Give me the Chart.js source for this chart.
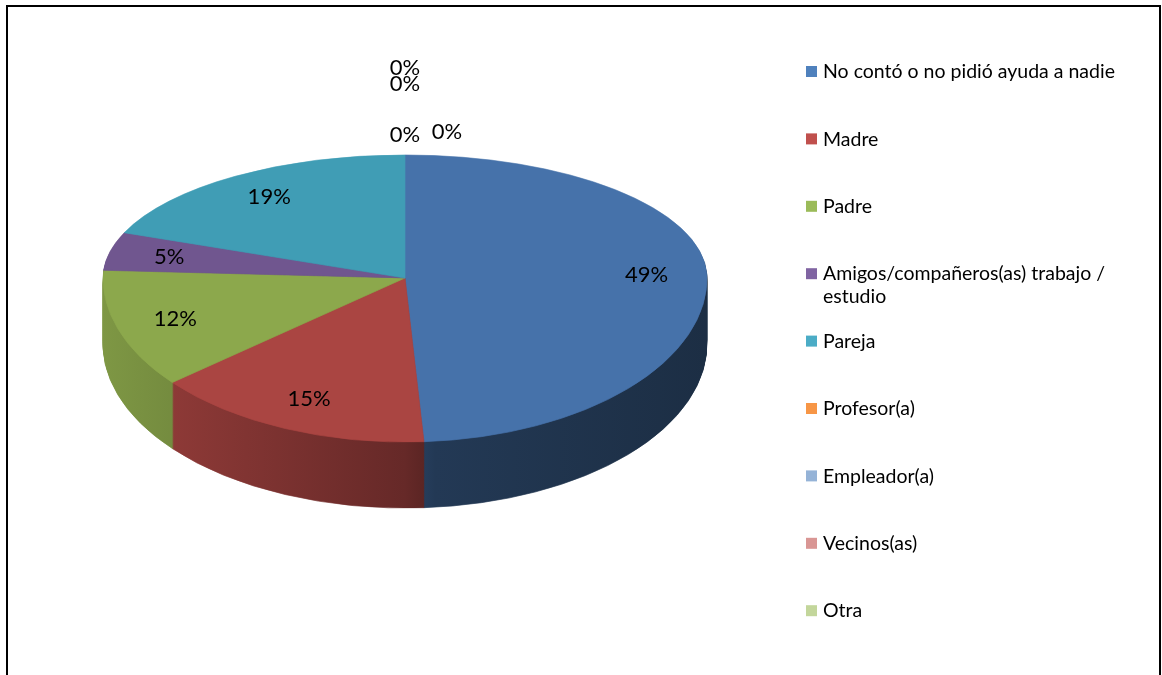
<!DOCTYPE html>
<html><head><meta charset="utf-8">
<script src="https://cdn.jsdelivr.net/npm/chart.js@4"></script>
<style>
html,body{margin:0;padding:0;background:#fff;overflow:hidden;}
#wrap{position:relative;width:1162px;height:675px;}
#frame{position:absolute;left:6px;top:5px;width:1151px;height:700px;border:2px solid #000;}
canvas{position:absolute;left:0;top:0;}
</style></head><body>
<div id="wrap"><canvas id="c" width="1162" height="675"></canvas><div id="frame"></div></div>
<script>
// ---- data ----
const categories = [
  "No contó o no pidió ayuda a nadie",
  "Madre",
  "Padre",
  "Amigos/compañeros(as) trabajo / estudio",
  "Pareja",
  "Profesor(a)",
  "Empleador(a)",
  "Vecinos(as)",
  "Otra"
];
const shares = [49, 15, 12, 5, 19, 0, 0, 0, 0];

// ---- styles ----
const topColors = ['#4672AA','#AA4542','#8CA84C','#70568F','#409DB5','#F79646','#95B3D7','#D99694','#C3D69B'];
const legendColors = ['#4F81BD','#C0504D','#9BBB59','#8064A2','#4BACC6','#F79646','#95B3D7','#D99694','#C3D69B'];
const EX = 405, EY = 278, RX = 302, RYT = 123, RYB = 164, DEPTH = 66;

function shade(hex, f){
  const n = parseInt(hex.slice(1),16);
  const r = Math.round(((n>>16)&255)*f), g = Math.round(((n>>8)&255)*f), b = Math.round((n&255)*f);
  return `rgb(${r},${g},${b})`;
}

const pie3d = {
  id: 'pie3d',
  beforeDatasetsDraw(chart){
    const ctx = chart.ctx, meta = chart.getDatasetMeta(0);
    const el0 = meta.data[0];
    const cx = el0.x, cy = el0.y, R = el0.outerRadius;
    const W = chart.width, H = chart.height;
    const drawPass = (dy, colorOf) => {
      for (const half of [0,1]) {
        ctx.save();
        ctx.beginPath();
        if (half === 0) ctx.rect(0, 0, W, EY + dy);
        else ctx.rect(0, EY + dy, W, H + 200);
        ctx.clip();
        const sx = RX / R, sy = (half === 0 ? RYT : RYB) / R;
        ctx.setTransform(sx, 0, 0, sy, EX - cx * sx, EY + dy - cy * sy);
        meta.data.forEach((arc, i) => {
          if (!(arc.circumference > 0)) return;
          const o = arc.options;
          const col = colorOf(i);
          arc.options = Object.assign({}, o, {backgroundColor: col, borderColor: col, borderWidth: 1});
          arc.draw(ctx);
          arc.options = o;
        });
        ctx.restore();
      }
    };
    const sideGrad = topColors.map(c => {
      const g = ctx.createLinearGradient(cx - R, 0, cx + R, 0);
      g.addColorStop(0, shade(c, 0.9));
      g.addColorStop(0.5, shade(c, 0.6));
      g.addColorStop(0.55, shade(c, 0.5));
      g.addColorStop(1, shade(c, 0.4));
      return g;
    });
    for (let d = DEPTH; d >= 1; d--) drawPass(d, i => sideGrad[i]);
    drawPass(0, i => topColors[i]);
    return false;
  },
  afterDraw(chart){
    const ctx = chart.ctx, meta = chart.getDatasetMeta(0);
    const vals = chart.data.datasets[0].data;
    const total = vals.reduce((a,b)=>a+b,0);
    ctx.save();
    ctx.fillStyle = '#000';
    ctx.textAlign = 'center';
    ctx.textBaseline = 'middle';
    ctx.font = '22px Lato';
    const zeroSlots = [[0,-20],[42,-23.5],[0,-71],[0,-87]];
    let z = 0;
    meta.data.forEach((arc, i) => {
      const txt = Math.round(vals[i] / total * 100) + '%';
      if (vals[i] > 0) {
        const mid = (arc.startAngle + arc.endAngle) / 2;
        const px = Math.cos(mid) * 0.8, py = Math.sin(mid) * 0.8;
        ctx.fillText(txt, EX + px * RX, EY + py * (py < 0 ? RYT : RYB));
      } else {
        const s = zeroSlots[z++ % zeroSlots.length];
        ctx.fillText(txt, EX + s[0], EY - RYT + s[1]);
      }
    });
    // legend
    ctx.textAlign = 'left';
    ctx.font = '19.5px Lato';
    const maxW = 318;
    chart.data.labels.forEach((lab, i) => {
      const y = 72 + i * 67.4;
      const words = lab.split(' ');
      const lines = [];
      let cur = '';
      words.forEach(w => {
        const t = cur ? cur + ' ' + w : w;
        if (ctx.measureText(t).width > maxW && cur) { lines.push(cur); cur = w; }
        else cur = t;
      });
      lines.push(cur);
      ctx.fillStyle = legendColors[i];
      ctx.fillRect(806, y - 6, 11, 11);
      ctx.fillStyle = '#000';
      lines.forEach((ln, k) => ctx.fillText(ln, 823, y + k * 23));
    });
    ctx.restore();
  }
};

function build(){
  new Chart(document.getElementById('c'), {
    type: 'pie',
    data: { labels: categories, datasets: [{ data: shares, backgroundColor: topColors, borderWidth: 0 }] },
    options: {
      responsive: false, animation: false, devicePixelRatio: 1, events: [],
      plugins: { legend: { display: false }, tooltip: { enabled: false } }
    },
    plugins: [pie3d]
  });
}
if (document.fonts && document.fonts.load) {
  Promise.all([document.fonts.load('22px Lato'), document.fonts.load('19.5px Lato')]).then(build, build);
} else build();
</script>
</body></html>
